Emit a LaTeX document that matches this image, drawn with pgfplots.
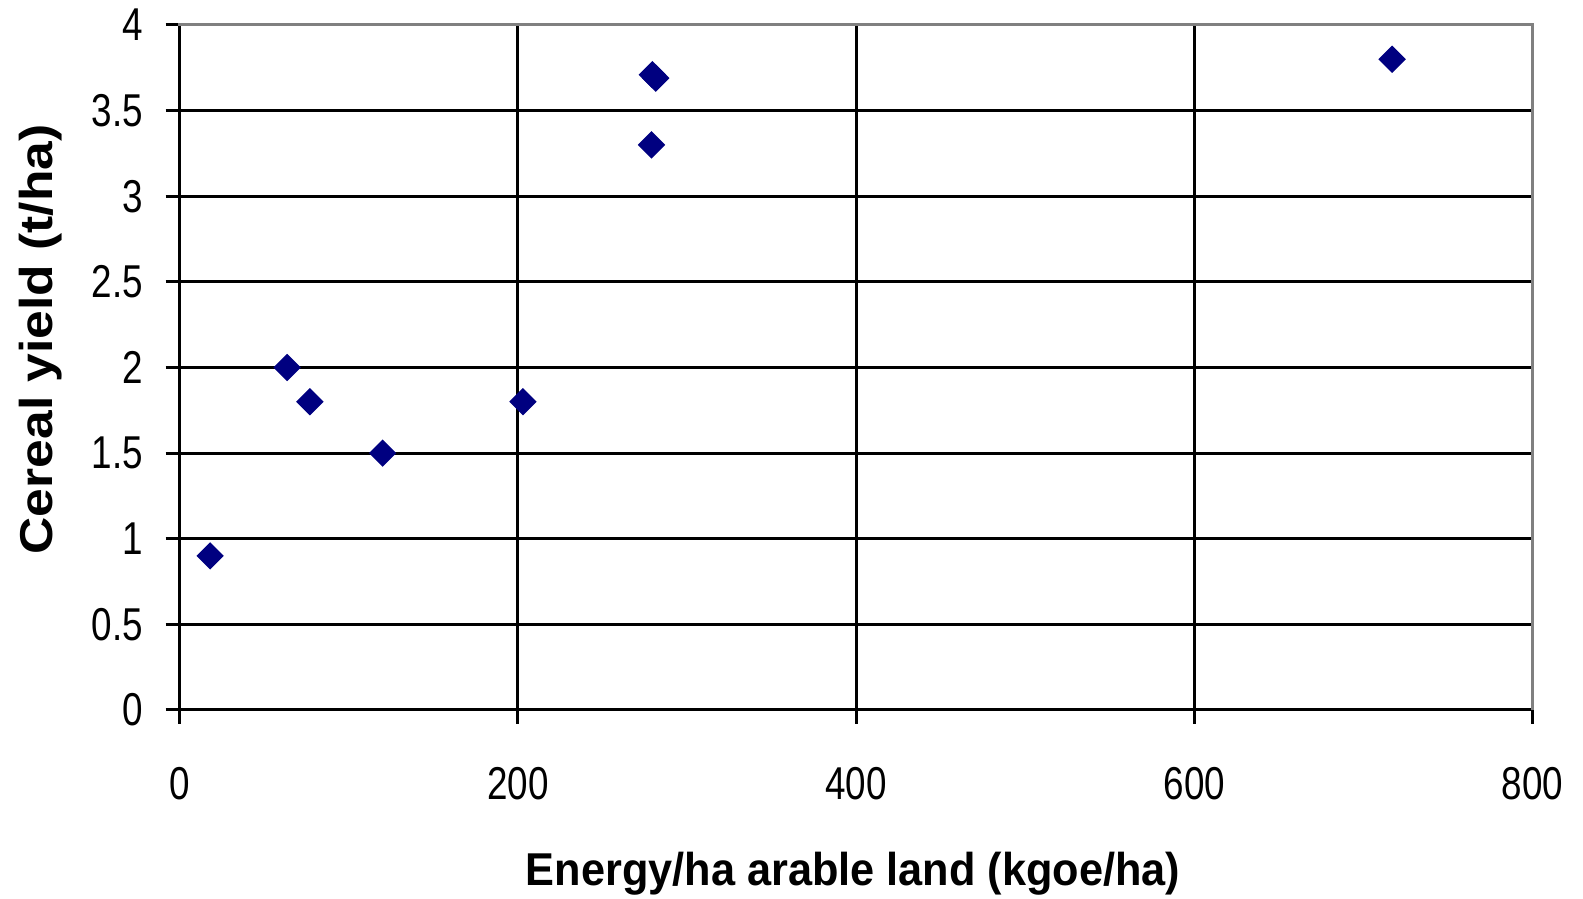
\documentclass[border=0pt]{standalone}
\usepackage{fontspec}
\setmainfont{Liberation Sans}
\usepackage{pgfplots}
\pgfplotsset{compat=1.18}
\definecolor{navy}{RGB}{0,0,128}
\definecolor{framegray}{RGB}{128,128,128}
\begin{document}
\begin{tikzpicture}
\path[use as bounding box] (-1.797,-1.89) rectangle (14.033,7.10);
\begin{axis}[
  at={(0,0)}, anchor=south west,
  scale only axis, width=13.528cm, height=6.85cm,
  xmin=0, xmax=800, ymin=0, ymax=4,
  xtick={0,200,400,600,800},
  ytick={0,0.5,1,1.5,2,2.5,3,3.5,4},
  grid=major,
  grid style={black, line width=0.03cm},
  axis line style={black, line width=0.03cm},
  tick align=outside, xtick pos=left, ytick pos=left,
  major tick length=0.14cm,
  tick style={black, line width=0.03cm},
  /pgf/number format/assume math mode=true,
  tick label style={font=\fontsize{13.1}{15}\selectfont},
  xticklabel={\scalebox{0.8}[1]{\pgfmathprintnumber{\tick}}},
  yticklabel={\scalebox{0.8}[1]{\pgfmathprintnumber{\tick}}},
  xticklabel style={anchor=north, inner sep=0pt, yshift=-0.43cm},
  yticklabel style={anchor=east, inner sep=0pt, xshift=-0.222cm},
  xlabel={\scalebox{0.94}[1]{Energy/ha arable land (kgoe/ha)}},
  ylabel={\scalebox{1.12}[1]{Cereal yield (t/ha)}},
  label style={font=\fontsize{13.1}{15}\selectfont\bfseries, inner sep=0pt},
  xlabel style={at={(axis description cs:0.4977,-0.2569)}, anchor=base},
  ylabel style={at={(axis description cs:-0.0937,0.2263)}, anchor=base west, rotate=0},
  clip=false,
]
\addplot[only marks, mark=square*, mark size=0.09cm,
  mark options={rotate=45, fill=navy, draw=navy}]
  coordinates {
    (18,0.9) (63.5,2.0) (77,1.8) (120,1.5) (203,1.8)
    (279,3.3) (279.5,3.71) (281.5,3.69) (717,3.8)
  };
\end{axis}
\draw[framegray, line width=0.03cm] (-0.015,6.85) -- (13.528,6.85) -- (13.528,0);
\end{tikzpicture}
\end{document}
